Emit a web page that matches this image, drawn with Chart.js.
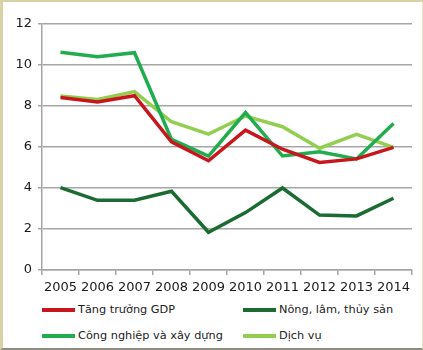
<!DOCTYPE html>
<html>
<head>
<meta charset="utf-8">
<script src="https://cdn.jsdelivr.net/npm/chart.js@4"></script>
<style>
  html, body { margin: 0; padding: 0; background: #fff; }
  body { width: 423px; height: 350px; position: relative; overflow: hidden; font-family: "DejaVu Sans", Verdana, sans-serif; }
  .frame { position: absolute; left: 0; top: 0; width: 423px; height: 350px; box-sizing: border-box;
           border-left: 3px solid #d9d2a6; border-top: 2px solid #d9d2a6; border-bottom: 2px solid #8c8c80; border-right: 1px solid #e8e4cc; }
  #wrap { position: absolute; left: 0; top: 0; width: 423px; height: 295px; }
  .legend { position: absolute; left: 0; top: 0; font-size: 11.3px; color: #222; }
  .item { position: absolute; white-space: nowrap; display: flex; align-items: center; }
  .item span.sw { display: inline-block; width: 33px; height: 4px; margin-right: 3px; }
</style>
</head>
<body>
<div class="frame"></div>
<div id="wrap"><canvas id="c"></canvas></div>
<div class="legend" id="legend"></div>
<script>
const years = ['2005', '2006', '2007', '2008', '2009', '2010', '2011', '2012', '2013', '2014'];
const gdp      = [8.42, 8.2, 8.5, 6.25, 5.33, 6.82, 5.89, 5.25, 5.42, 5.98];
const nong     = [4.02, 3.4, 3.4, 3.84, 1.84, 2.8, 4.0, 2.68, 2.64, 3.5];
const congNghiep = [10.62, 10.4, 10.6, 6.37, 5.56, 7.68, 5.56, 5.77, 5.42, 7.15];
const dichVu   = [8.49, 8.32, 8.7, 7.23, 6.63, 7.51, 6.99, 5.94, 6.62, 5.98];
const names  = ['Tăng trưởng GDP', 'Nông, lâm, thủy sản', 'Công nghiệp và xây dựng', 'Dịch vụ'];
const colors = ['#c8161d', '#1b6b32', '#21ad4f', '#92cf50'];
const series = [gdp, nong, congNghiep, dichVu];

Chart.defaults.font.family = '"DejaVu Sans", Verdana, sans-serif';
Chart.defaults.color = '#222';

new Chart(document.getElementById('c'), {
    type: 'line',
    data: {
        labels: years,
        datasets: series.map((d, i) => ({
            label: names[i],
            data: d,
            borderColor: colors[i],
            backgroundColor: colors[i],
            borderWidth: 3.5,
            pointRadius: 0,
            tension: 0
        }))
    },
    options: {
        responsive: true,
        maintainAspectRatio: false,
        animation: false,
        layout: { padding: { top: 24, right: 11, left: 0, bottom: 0 } },
        plugins: { legend: { display: false }, tooltip: { enabled: false } },
        scales: {
            x: {
                offset: true,
                grid: { offset: true, drawOnChartArea: false, drawTicks: true, tickLength: 5, color: '#a6a6a6', lineWidth: 1.5 },
                border: { color: '#a6a6a6', width: 1.5 },
                ticks: { font: { size: 13 }, color: '#1a1a1a', padding: 5, maxRotation: 0, autoSkip: false },
                afterFit: s => { s.height = 25; }
            },
            y: {
                min: 0, max: 12,
                grid: { color: '#a6a6a6', lineWidth: 1.5, tickLength: 4 },
                border: { color: '#a6a6a6', width: 1.5 },
                ticks: { stepSize: 2, font: { size: 13 }, color: '#1a1a1a', padding: 6 },
                afterFit: s => { s.width = 42; }
            }
        }
    }
});

// legend below the chart, two columns
const pos = [[42, 303], [243, 303], [42, 329], [243, 329]];
const leg = document.getElementById('legend');
names.forEach((n, i) => {
    const el = document.createElement('div');
    el.className = 'item';
    el.style.left = pos[i][0] + 'px';
    el.style.top = pos[i][1] + 'px';
    el.innerHTML = '<span class="sw" style="background:' + colors[i] + '"></span>' + n;
    leg.appendChild(el);
});
</script>
</body>
</html>
